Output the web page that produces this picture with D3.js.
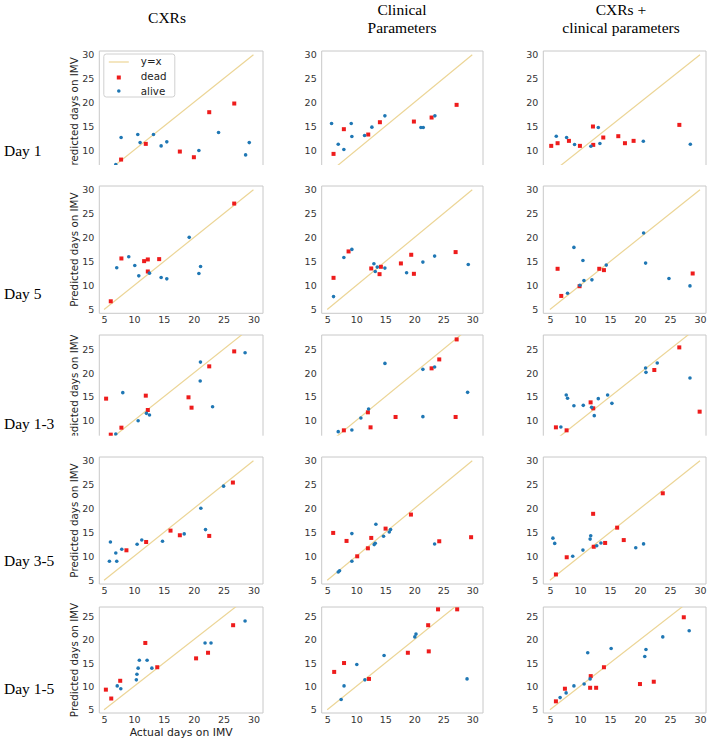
<!DOCTYPE html>
<html>
<head>
<meta charset="utf-8">
<script src="https://cdn.jsdelivr.net/npm/d3@7"></script>
<style>
  body { margin: 0; background: #fff; }
  svg { display: block; }
</style>
</head>
<body>
<div id="plot"></div>
<script>
// titles and ticks
let colTitles = [["CXRs"], ["Clinical", "Parameters"], ["CXRs +", "clinical parameters"]]
let rowTitles = ["Day 1", "Day 5", "Day 1-3", "Day 3-5", "Day 1-5"]
let xTickVals = [5, 10, 15, 20, 25, 30]
let yTickVals = [[10, 15, 20, 25, 30], [5, 10, 15, 20, 25, 30], [10, 15, 20, 25], [5, 10, 15, 20, 25, 30], [5, 10, 15, 20, 25]]
let legendLabels = ["y=x", "dead", "alive"]

// [actual, predicted] for each column: CXRs, Clinical, CXRs + clinical
let day1Dead = [
  [[7.85, 8.04], [11.98, 11.33], [17.68, 9.72], [20.03, 8.53], [22.6, 17.97], [26.79, 19.79]],
  [[6.09, 9.23], [7.87, 14.41], [12.07, 13.29], [14.08, 15.87], [19.94, 16.01], [22.99, 16.85], [27.3, 19.51]],
  [[5.22, 10.91], [6.28, 11.47], [8.17, 11.96], [10.0, 10.91], [12.17, 14.97], [12.22, 11.12], [13.89, 12.66], [16.39, 12.94], [17.5, 11.47], [18.94, 11.96], [26.56, 15.31]]
]
let day1Alive = [
  [[6.96, 7.0], [7.85, 12.66], [10.64, 13.29], [11.03, 11.6], [13.27, 13.29], [14.55, 10.9], [15.5, 11.75], [20.87, 9.93], [24.16, 13.7], [28.69, 9.02], [29.3, 11.6]],
  [[5.75, 15.6], [6.9, 11.26], [7.87, 10.14], [9.14, 15.6], [9.25, 12.87], [11.44, 13.08], [12.7, 14.83], [14.94, 17.2], [21.15, 14.76], [21.55, 14.76], [23.56, 17.2]],
  [[6.06, 12.94], [7.78, 12.66], [9.11, 11.19], [11.83, 10.84], [13.06, 14.76], [13.33, 11.4], [20.56, 11.89], [28.39, 11.26]]
]
let day5Dead = [
  [[6.12, 6.71], [7.9, 15.66], [11.7, 15.1], [12.32, 15.45], [12.32, 12.94], [14.22, 15.52], [26.78, 27.13]],
  [[6.09, 11.61], [8.68, 17.13], [12.59, 13.57], [14.02, 12.38], [14.25, 13.92], [17.7, 14.62], [19.48, 16.43], [19.94, 12.45], [27.13, 16.99]],
  [[6.28, 13.5], [6.89, 7.83], [9.94, 9.86], [13.22, 13.5], [14.0, 13.22], [28.78, 12.52]]
]
let day5Alive = [
  [[7.12, 13.71], [9.13, 16.01], [10.14, 14.2], [10.81, 12.03], [12.6, 12.59], [14.55, 11.68], [15.5, 11.4], [19.25, 20.07], [20.87, 12.52], [21.15, 13.99]],
  [[6.09, 7.69], [7.87, 15.87], [9.25, 17.55], [13.05, 14.55], [13.28, 12.94], [13.62, 13.85], [14.94, 13.64], [18.68, 12.66], [21.49, 14.9], [23.51, 16.15], [29.31, 14.41]],
  [[7.94, 8.39], [9.0, 17.97], [10.0, 10.07], [10.5, 15.24], [10.67, 11.05], [12.0, 11.19], [14.39, 14.27], [20.61, 20.98], [20.94, 14.69], [24.83, 11.47], [28.33, 9.93]]
]
let day13Dead = [
  [[5.34, 14.6], [6.12, 7.02], [7.9, 8.49], [11.98, 15.23], [12.32, 12.21], [19.13, 14.88], [19.64, 12.7], [22.6, 21.4], [26.78, 24.55]],
  [[7.87, 7.93], [12.01, 11.72], [12.47, 8.56], [16.78, 10.74], [22.99, 20.98], [24.31, 22.86], [27.13, 10.74], [27.31, 27.07]],
  [[6.0, 8.56], [7.78, 7.93], [11.78, 13.82], [12.22, 12.56], [22.39, 20.63], [26.55, 25.39], [29.94, 11.86]]
]
let day13Alive = [
  [[6.96, 7.16], [8.13, 15.86], [10.7, 9.96], [12.09, 11.51], [12.6, 11.16], [21.09, 18.32], [21.13, 22.3], [23.16, 12.91], [28.6, 24.27]],
  [[6.9, 7.65], [9.25, 8.0], [10.8, 10.53], [12.13, 12.42], [14.95, 22.02], [21.49, 10.81], [21.49, 20.77], [23.51, 21.26], [29.2, 15.93]],
  [[6.83, 8.63], [7.72, 15.37], [7.94, 14.67], [9.0, 13.12], [10.56, 13.19], [11.94, 12.77], [12.39, 11.02], [13.06, 14.6], [14.61, 15.37], [15.33, 13.61], [20.94, 21.05], [21.0, 20.14], [22.88, 22.1], [28.33, 18.95]]
]
let day35Dead = [
  [[8.74, 11.26], [12.04, 13.0], [16.12, 15.38], [17.68, 14.41], [22.6, 14.27], [26.56, 25.45]],
  [[6.03, 14.9], [8.33, 13.22], [10.17, 10.0], [12.01, 11.68], [12.59, 13.85], [15.06, 15.8], [19.43, 18.74], [24.31, 13.15], [29.8, 14.0]],
  [[6.0, 6.2], [7.8, 9.8], [12.2, 18.9], [12.3, 12.0], [14.2, 12.8], [16.2, 16.0], [17.3, 13.4], [23.8, 23.2]]
]
let day35Alive = [
  [[5.89, 8.95], [6.06, 13.0], [6.96, 10.7], [7.12, 8.95], [7.96, 11.47], [10.53, 12.52], [11.31, 13.43], [14.78, 13.15], [18.41, 14.69], [21.2, 20.07], [21.98, 15.59], [25.0, 24.69]],
  [[6.9, 6.71], [7.13, 6.99], [9.25, 14.76], [9.25, 8.95], [13.1, 12.45], [13.28, 12.73], [13.39, 16.71], [14.71, 14.2], [15.69, 15.1], [15.92, 15.59], [23.51, 12.59]],
  [[5.5, 13.8], [5.8, 12.7], [8.8, 10.0], [10.5, 11.3], [11.7, 13.6], [11.8, 14.3], [12.8, 12.2], [13.5, 12.8], [19.3, 11.8], [20.6, 12.6]]
]
let day15Dead = [
  [[5.3, 9.3], [6.2, 7.4], [7.7, 11.2], [11.9, 19.3], [13.9, 14.1], [20.4, 16.0], [22.4, 17.2], [26.6, 23.1]],
  [[6.2, 13.1], [7.9, 15.0], [12.2, 11.6], [18.9, 17.2], [22.4, 23.1], [22.5, 17.5], [24.1, 26.5], [27.4, 26.5]],
  [[6.0, 6.8], [7.5, 9.5], [11.7, 9.7], [11.8, 12.2], [12.7, 9.7], [14.0, 14.1], [20.0, 10.5], [22.3, 11.0], [27.3, 24.8]]
]
let day15Alive = [
  [[7.2, 10.1], [7.8, 9.5], [10.4, 11.4], [10.5, 12.6], [10.7, 13.9], [10.9, 15.6], [12.2, 15.6], [13.0, 13.9], [21.9, 19.3], [22.9, 19.3], [28.6, 24.0]],
  [[7.4, 7.2], [7.9, 10.1], [10.1, 14.7], [11.5, 11.4], [14.8, 16.6], [20.1, 20.6], [20.3, 21.2], [29.1, 11.6]],
  [[6.7, 7.6], [7.7, 8.6], [9.0, 10.1], [10.7, 10.5], [11.3, 17.2], [11.7, 11.6], [15.2, 18.1], [20.8, 16.4], [21.0, 17.9], [23.8, 20.6], [28.2, 21.9]]
]
let deadData = [day1Dead, day5Dead, day13Dead, day35Dead, day15Dead]
let aliveData = [day1Alive, day5Alive, day13Alive, day35Alive, day15Alive]

// layout of the panels (pixels) and their axis limits
let colRange = [[99.3, 263], [321.7, 483], [543.3, 706]]
let colDomain = [[4.2, 31.6], [4.05, 31.85], [3.9, 31]]
let rowRange = [[51, 165], [186, 313.3], [335, 435.7], [457, 584], [607, 713]]
let rowDomain = [[6.9, 30.8], [4.2, 30.8], [6.8, 28], [4.2, 30.8], [4.3, 27]]
let hasXAxis = [false, true, false, true, true]
let rowTitleY = [152, 295, 425, 562, 690]
let colCentre = [167, 402, 621]

let spineColor = '#c8c8c8'
let deadColor = '#ee1c1c'
let aliveColor = '#1f77b4'
let lineColor = '#ecd596'

let svg = d3.select('#plot').append('svg')
  .attr('width', 708)
  .attr('height', 740)

// column titles
colTitles.forEach(function(lines, c) {
  lines.forEach(function(t, i) {
    svg.append('text')
      .attr('x', colCentre[c])
      .attr('y', lines.length == 1 ? 19 : 11 + i * 18)
      .attr('text-anchor', 'middle')
      .attr('dominant-baseline', 'middle')
      .style('font-family', 'Liberation Serif, Times New Roman, serif')
      .style('font-size', '15.5px')
      .text(t)
  })
})

// row titles
rowTitles.forEach(function(t, r) {
  svg.append('text')
    .attr('x', 4)
    .attr('y', rowTitleY[r])
    .attr('dominant-baseline', 'middle')
    .style('font-family', 'Liberation Serif, Times New Roman, serif')
    .style('font-size', '15.5px')
    .text(t)
})

let defs = svg.append('defs')

for (let r = 0; r < 5; r++) {
  let y = d3.scaleLinear().domain(rowDomain[r]).range([rowRange[r][1], rowRange[r][0]])
  let top = rowRange[r][0], bottom = rowRange[r][1]

  // y label, centred on the uncropped panel and clipped like the original
  let clipId = 'ylab' + r
  let cropped = !hasXAxis[r]
  defs.append('clipPath').attr('id', clipId)
    .append('rect').attr('x', 0).attr('y', cropped ? top : top - 6)
    .attr('width', 99).attr('height', bottom - top + (cropped ? 0 : 14))
  let mid = cropped ? (top + y(4.2)) / 2 : (top + bottom) / 2
  svg.append('g')
    .attr('clip-path', 'url(#' + clipId + ')')
    .append('text')
    .attr('transform', 'translate(75,' + mid + ') rotate(-90)')
    .attr('text-anchor', 'middle')
    .attr('dominant-baseline', 'middle')
    .style('font-family', 'DejaVu Sans, sans-serif')
    .style('font-size', '10.3px')
    .style('fill', '#222')
    .text('Predicted days on IMV')

  for (let c = 0; c < 3; c++) {
    let x = d3.scaleLinear().domain(colDomain[c]).range(colRange[c])
    let left = colRange[c][0], right = colRange[c][1]
    let g = svg.append('g')

    let pid = 'clip' + r + '_' + c
    defs.append('clipPath').attr('id', pid)
      .append('rect').attr('x', left).attr('y', top).attr('width', right - left).attr('height', bottom - top)

    // spines
    let spines = [[left, top, left, bottom], [right, top, right, bottom], [left, top, right, top]]
    if (hasXAxis[r]) spines.push([left, bottom, right, bottom])
    g.selectAll('.spine').data(spines).enter().append('line')
      .attr('x1', d => d[0]).attr('y1', d => d[1])
      .attr('x2', d => d[2]).attr('y2', d => d[3])
      .attr('stroke', spineColor)
      .attr('stroke-width', 1)

    // y axis
    let yAxis = g.append('g')
      .attr('transform', 'translate(' + left + ',0)')
      .call(d3.axisLeft(y).tickValues(yTickVals[r]).tickSize(0).tickPadding(5))
    yAxis.select('.domain').remove()
    yAxis.selectAll('text')
      .style('font-family', 'DejaVu Sans, sans-serif')
      .style('font-size', '9.5px')
      .style('fill', '#333')

    // x axis
    if (hasXAxis[r]) {
      let xAxis = g.append('g')
        .attr('transform', 'translate(0,' + bottom + ')')
        .call(d3.axisBottom(x).tickValues(xTickVals).tickSize(0).tickPadding(3))
      xAxis.select('.domain').remove()
      xAxis.selectAll('text')
        .style('font-family', 'DejaVu Sans, sans-serif')
        .style('font-size', '9.5px')
        .style('fill', '#333')
    }

    let plot = g.append('g').attr('clip-path', 'url(#' + pid + ')')

    // y = x reference line
    plot.append('line')
      .attr('x1', x(5)).attr('y1', y(5))
      .attr('x2', x(30)).attr('y2', y(30))
      .attr('stroke', lineColor)
      .attr('stroke-width', 1.2)

    plot.selectAll('.dead').data(deadData[r][c]).enter().append('rect')
      .attr('x', d => x(d[0]) - 2)
      .attr('y', d => y(d[1]) - 2)
      .attr('width', 4)
      .attr('height', 4)
      .attr('fill', deadColor)

    plot.selectAll('.alive').data(aliveData[r][c]).enter().append('circle')
      .attr('cx', d => x(d[0]))
      .attr('cy', d => y(d[1]))
      .attr('r', 1.8)
      .attr('fill', aliveColor)

    // legend only in the first panel
    if (r == 0 && c == 0) {
      let lg = g.append('g').attr('transform', 'translate(' + (left + 4.5) + ',' + (top + 3) + ')')
      lg.append('rect')
        .attr('width', 71).attr('height', 43).attr('rx', 2.5)
        .attr('fill', '#fff').attr('fill-opacity', 0.85)
        .attr('stroke', '#d0d0d0')
      lg.append('line')
        .attr('x1', 5).attr('x2', 25).attr('y1', 8).attr('y2', 8)
        .attr('stroke', lineColor).attr('stroke-width', 1.2)
      lg.append('rect')
        .attr('x', 13).attr('y', 21.5).attr('width', 4).attr('height', 4)
        .attr('fill', deadColor)
      lg.append('circle')
        .attr('cx', 15).attr('cy', 37).attr('r', 1.8)
        .attr('fill', aliveColor)
      lg.selectAll('.lt').data(legendLabels).enter().append('text')
        .attr('x', 37)
        .attr('y', (d, i) => 8 + i * 15)
        .attr('dominant-baseline', 'middle')
        .style('font-family', 'DejaVu Sans, sans-serif')
        .style('font-size', '10.3px')
        .style('fill', '#222')
        .text(d => d)
    }
  }
}

// x label under the first column
svg.append('text')
  .attr('x', (colRange[0][0] + colRange[0][1]) / 2)
  .attr('y', 733)
  .attr('text-anchor', 'middle')
  .attr('dominant-baseline', 'middle')
  .style('font-family', 'DejaVu Sans, sans-serif')
  .style('font-size', '10.8px')
  .style('fill', '#222')
  .text('Actual days on IMV')
</script>
</body>
</html>
